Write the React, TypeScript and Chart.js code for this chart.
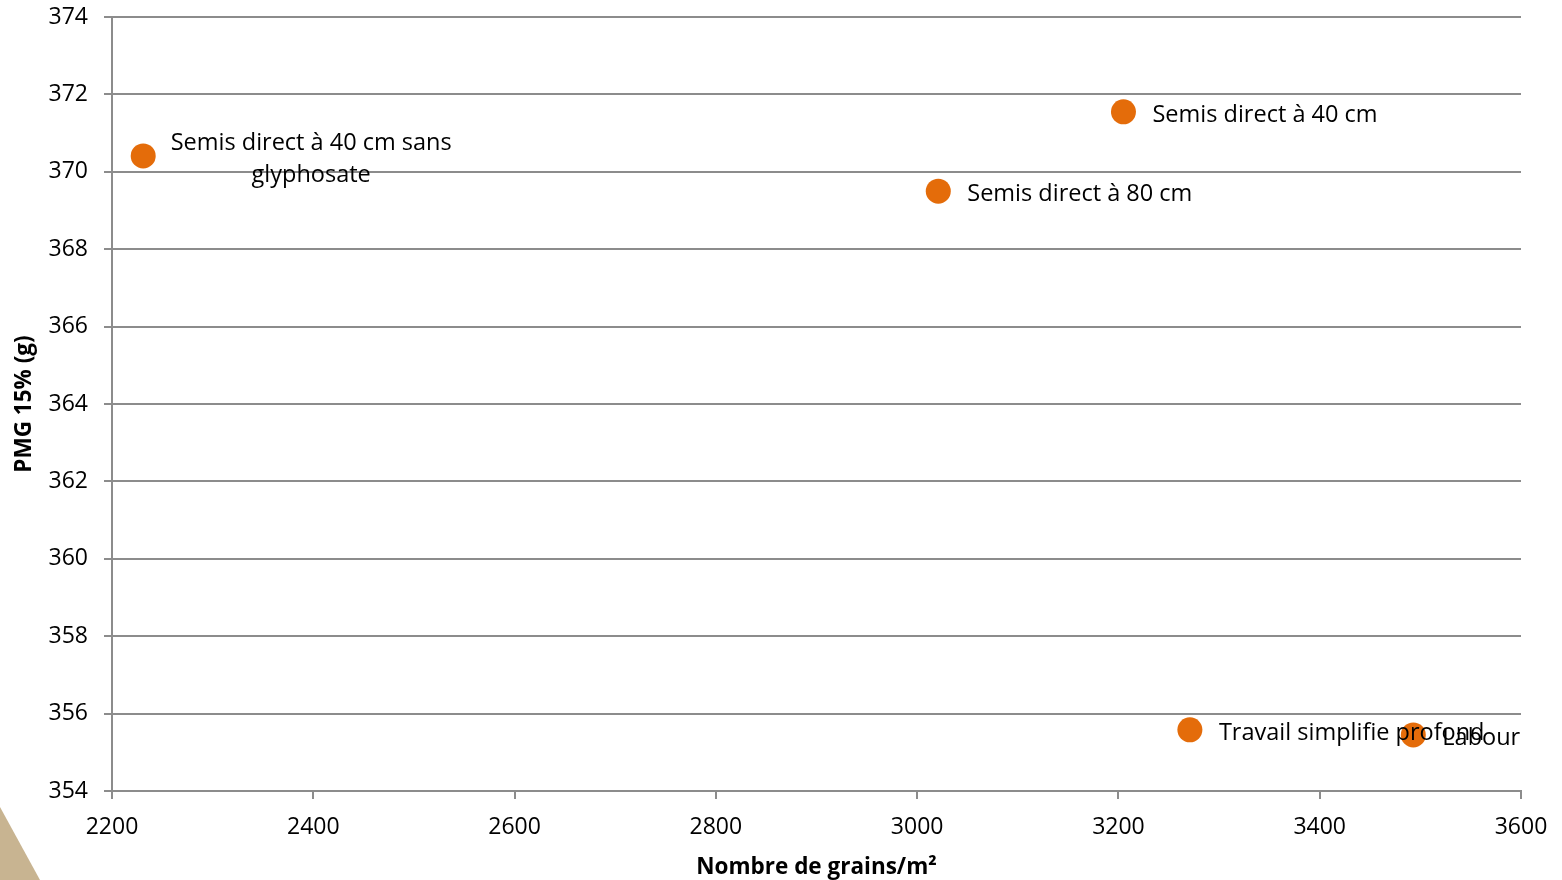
import React, { useEffect, useRef } from "react";
import { Chart, registerables } from "chart.js";

Chart.register(...registerables);

const treatments = [
  "Semis direct à 40 cm sans glyphosate",
  "Semis direct à 40 cm",
  "Semis direct à 80 cm",
  "Travail simplifie profond",
  "Labour",
];
const grainsPerM2 = [2231, 3205, 3021, 3271, 3493];
const pmg15 = [370.41, 371.55, 369.5, 355.58, 355.45];
const xRange = [2200, 3600];
const xStep = 200;
const yRange = [354, 374];
const yStep = 2;
const xTitle = "Nombre de grains/m²";
const yTitle = "PMG 15% (g)";

// label line breaks (text layout only)
const labelLines = [
  ["Semis direct à 40 cm sans", "glyphosate"],
  ["Semis direct à 40 cm"],
  ["Semis direct à 80 cm"],
  ["Travail simplifie profond"],
  ["Labour"],
];

const FONT = "'Open Sans', sans-serif";
const GRID = "#8c8c8c";
const ORANGE = "#E46C0A";

const decoPlugin = {
  id: "deco",
  beforeDraw(chart: any) {
    const ctx = chart.ctx;
    ctx.save();
    ctx.fillStyle = "#ffffff";
    ctx.fillRect(0, 0, chart.width, chart.height);
    ctx.fillStyle = "#C8B491";
    ctx.beginPath();
    ctx.moveTo(0, 807);
    ctx.lineTo(40, 880);
    ctx.lineTo(0, 880);
    ctx.closePath();
    ctx.fill();
    ctx.restore();
  },
  afterDraw(chart: any) {
    const ctx = chart.ctx;
    const meta = chart.getDatasetMeta(0);
    ctx.save();
    ctx.fillStyle = "#000";
    ctx.font = `23.5px ${FONT}`;
    ctx.textBaseline = "middle";
    meta.data.forEach((pt: any, i: number) => {
      const lines = labelLines[i];
      if (lines.length > 1) {
        ctx.textAlign = "center";
        ctx.fillText(lines[0], pt.x + 168, pt.y - 13);
        ctx.fillText(lines[1], pt.x + 168, pt.y + 19);
      } else {
        ctx.textAlign = "left";
        ctx.fillText(lines[0], pt.x + 29, pt.y + 3);
      }
    });
    // axis titles
    ctx.font = `bold 22.5px ${FONT}`;
    ctx.textAlign = "center";
    ctx.fillText(xTitle, (chart.chartArea.left + chart.chartArea.right) / 2, 868);
    ctx.translate(25, (chart.chartArea.top + chart.chartArea.bottom) / 2);
    ctx.rotate(-Math.PI / 2);
    ctx.fillText(yTitle, 0, 0);
    ctx.restore();
  },
};

export default function App() {
  const ref = useRef<HTMLCanvasElement>(null);
  useEffect(() => {
    if (!ref.current) return;
    const chart = new Chart(ref.current, {
      type: "scatter",
      data: {
        datasets: [
          {
            label: "PMG",
            data: grainsPerM2.map((x, i) => ({ x, y: pmg15[i] })),
            backgroundColor: ORANGE,
            borderColor: ORANGE,
            pointRadius: 12.5,
            pointHoverRadius: 12.5,
            borderWidth: 0,
          },
        ],
      },
      options: {
        animation: false,
        responsive: false,
        devicePixelRatio: 1,
        layout: { padding: { top: 17, right: 41, left: 0, bottom: 0 } },
        plugins: {
          legend: { display: false },
          tooltip: { enabled: false },
        },
        scales: {
          x: {
            type: "linear",
            min: xRange[0],
            max: xRange[1],
            afterFit: (s: any) => {
              s.height = 89;
              s.paddingLeft = 0;
              s.paddingRight = 0;
            },
            ticks: {
              stepSize: xStep,
              color: "#000",
              font: { family: FONT, size: 23 },
              padding: 15,
              maxRotation: 0,
              callback: (v: any) => String(v),
            },
            grid: {
              drawOnChartArea: false,
              drawTicks: true,
              tickLength: 8,
              color: GRID,
              lineWidth: 2,
            },
            border: { color: GRID, width: 2 },
          },
          y: {
            type: "linear",
            min: yRange[0],
            max: yRange[1],
            afterFit: (s: any) => {
              s.width = 112;
              s.paddingTop = 0;
              s.paddingBottom = 0;
            },
            ticks: {
              stepSize: yStep,
              color: "#000",
              font: { family: FONT, size: 23 },
              padding: 16,
              callback: (v: any) => String(v),
            },
            grid: {
              drawTicks: true,
              tickLength: 8,
              color: GRID,
              lineWidth: 2,
            },
            border: { color: GRID, width: 2 },
          },
        },
      },
      plugins: [decoPlugin],
    } as any);
    return () => chart.destroy();
  }, []);
  return (
    <div style={{ position: "absolute", left: 0, top: 0, width: 1562, height: 880 }}>
      <canvas ref={ref} width={1562} height={880} style={{ display: "block" }} />
    </div>
  );
}
